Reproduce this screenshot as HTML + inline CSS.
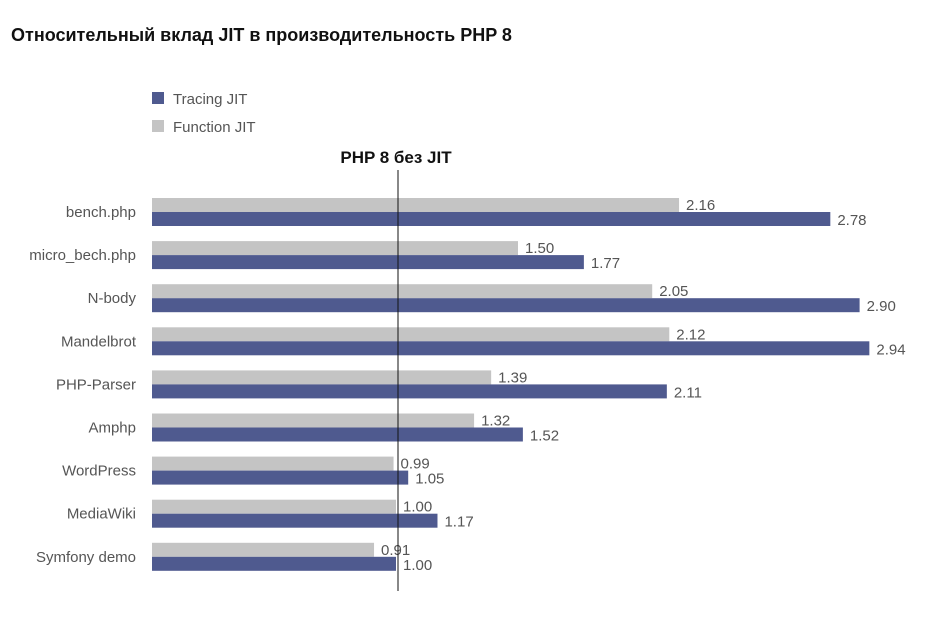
<!DOCTYPE html>
<html><head><meta charset="utf-8"><style>
body{margin:0;background:#fff;width:936px;height:624px;overflow:hidden;font-family:"Liberation Sans","Noto Sans CJK SC",sans-serif}
</style></head><body>
<svg width="936" height="624" id="c" font-family="Liberation Sans, sans-serif">
<text x="11" y="41" font-size="18" font-weight="bold" fill="#111">Относительный вклад JIT в производительность PHP 8</text>
<rect x="152" y="92" width="12" height="12" fill="#4f5a8f"/>
<text x="173" y="104" font-size="15" fill="#555">Tracing JIT</text>
<rect x="152" y="120" width="12" height="12" fill="#c4c4c4"/>
<text x="173" y="132" font-size="15" fill="#555">Function JIT</text>
<g id="bars"></g>
<line x1="398" y1="170" x2="398" y2="591" stroke="#111" stroke-width="1"/>
<text x="396" y="163" font-size="17" font-weight="bold" text-anchor="middle" fill="#111">PHP 8 без JIT</text>
</svg>
<script>
const categories=["bench.php","micro_bech.php","N-body","Mandelbrot","PHP-Parser","Amphp","WordPress","MediaWiki","Symfony demo"];
const functionJit=[2.16,1.50,2.05,2.12,1.39,1.32,0.99,1.00,0.91];
const tracingJit=[2.78,1.77,2.90,2.94,2.11,1.52,1.05,1.17,1.00];
const x0=152,scale=244,y0=212,pitch=43.1,bh=14;
const xs=v=>x0+v*scale;
const g=document.getElementById('bars');
const ns='http://www.w3.org/2000/svg';
function mk(tag,attrs){const e=document.createElementNS(ns,tag);for(const k in attrs)e.setAttribute(k,attrs[k]);g.appendChild(e);return e;}
categories.forEach((c,i)=>{
 const yc=y0+i*pitch;
 const t=mk('text',{x:136,y:yc+5,'font-size':15,'text-anchor':'end',fill:'#555'});t.textContent=c;
 
 
 const r1=mk('rect',{x:x0,y:yc-bh,width:xs(functionJit[i])-x0,height:bh,fill:'#c4c4c4'});
 
 
 const r2=mk('rect',{x:x0,y:yc,width:xs(tracingJit[i])-x0,height:bh,fill:'#4f5a8f'});
 
 
 const l1=mk('text',{x:xs(functionJit[i])+7,y:yc-2,'font-size':15,fill:'#555'});l1.textContent=functionJit[i].toFixed(2);
 
 
 const l2=mk('text',{x:xs(tracingJit[i])+7,y:yc+13,'font-size':15,fill:'#555'});l2.textContent=tracingJit[i].toFixed(2);
 
 
});
</script>
</body></html>
